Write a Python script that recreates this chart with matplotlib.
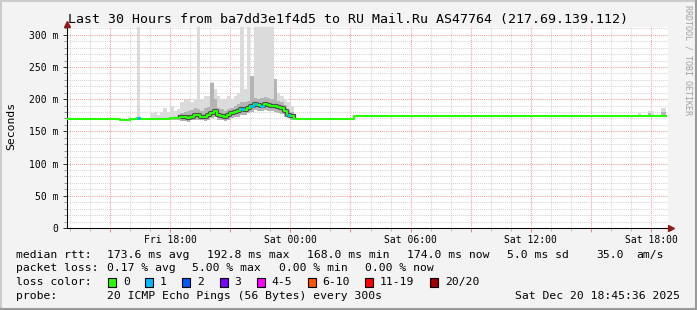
import numpy as np
import matplotlib.pyplot as plt
from matplotlib.lines import Line2D
from matplotlib.patches import Rectangle
from matplotlib.ticker import MultipleLocator, FixedLocator, FuncFormatter
from matplotlib.transforms import ScaledTranslation

plt.rcParams['font.family'] = 'DejaVu Sans Mono'

W, H = 697, 310

title = "Last 30 Hours from ba7dd3e1f4d5 to RU Mail.Ru AS47764 (217.69.139.112)"
axis_start = "Fri 12:51"
axis_end = "Sat 18:51"
data_end = "Sat 18:45"

# one row per sample: start time, median rtt (ms), lost pings (of 20),
# smoke lower edge, dense smoke top, light smoke top (ms)
times = ["Fri 12:51", "Fri 15:30", "Fri 16:00", "Fri 16:20", "Fri 16:30",
         "Fri 17:00", "Fri 17:10", "Fri 17:20", "Fri 17:30", "Fri 17:40",
         "Fri 17:50", "Fri 18:00", "Fri 18:10", "Fri 18:20",
         "Fri 18:30", "Fri 18:40", "Fri 18:50", "Fri 19:00", "Fri 19:10",
         "Fri 19:20", "Fri 19:30", "Fri 19:40", "Fri 19:50", "Fri 20:00",
         "Fri 20:10", "Fri 20:20", "Fri 20:30", "Fri 20:40", "Fri 20:50",
         "Fri 21:00", "Fri 21:10", "Fri 21:20", "Fri 21:30", "Fri 21:40",
         "Fri 21:50", "Fri 22:00", "Fri 22:10", "Fri 22:20", "Fri 22:30",
         "Fri 22:40", "Fri 22:50", "Fri 23:00", "Fri 23:10", "Fri 23:20",
         "Fri 23:30", "Fri 23:40", "Fri 23:50", "Sat 00:00", "Sat 00:10",
         "Sat 00:20", "Sat 03:12",
         "Sat 17:20", "Sat 17:30", "Sat 17:50", "Sat 18:00", "Sat 18:10",
         "Sat 18:30", "Sat 18:40"]
median = [169, 168, 169, 170, 169,
          169, 169, 169, 169, 169,
          169, 170, 171, 171,
          172, 172, 171, 173, 175,
          176, 173, 172, 176, 178,
          182, 175, 174, 173, 176,
          178, 180, 181, 184, 183,
          186, 189, 192, 191, 190,
          192, 191, 190, 189, 188,
          186, 181, 176, 174, 169,
          169, 174,
          174, 174, 174, 174, 174,
          174, 174]
loss = [0, 0, 0, 1, 0,
        0, 0, 0, 0, 0,
        0, 0, 0, 0,
        0, 0, 0, 0, 0,
        0, 0, 0, 0, 0,
        0, 0, 0, 0, 0,
        0, 0, 0, 1, 0,
        0, 1, 1, 0, 1,
        0, 0, 0, 0, 0,
        0, 0, 1, 0, 0,
        0, 0,
        0, 0, 0, 0, 0,
        0, 0]
smoke_lo = [169, 168, 169, 168, 169,
            168, 168, 168, 168, 168,
            168, 168, 168, 167,
            166, 166, 165, 167, 168,
            168, 167, 166, 168, 170,
            172, 168, 167, 166, 168,
            170, 172, 173, 176, 176,
            178, 180, 183, 182, 182,
            183, 182, 181, 180, 179,
            177, 173, 170, 168, 168,
            169, 174,
            174, 174, 173, 173, 174,
            173, 173]
smoke_mid = [169, 168, 169, 171, 169,
             170, 171, 170, 171, 171,
             171, 172, 172, 174,
             178, 180, 181, 183, 186,
             185, 182, 186, 188, 225,
             200, 186, 184, 182, 185,
             187, 189, 192, 195, 195,
             197, 236, 202, 201, 202,
             203, 202, 200, 231, 197,
             195, 191, 185, 180, 170,
             169, 174,
             174, 174, 178, 176, 174,
             180, 180]
smoke_top = [169, 168, 169, 320, 169,
             178, 180, 176, 180, 187,
             180, 189, 182, 185,
             195, 198, 200, 196, 200,
             320, 200, 205, 205, 226,
             215, 205, 200, 198, 205,
             200, 205, 210, 320, 215,
             320, 236, 320, 320, 320,
             320, 320, 320, 231, 210,
             205, 200, 195, 190, 172,
             169, 174,
             179, 174, 181, 182, 174,
             186, 186]

ytick_values = [0, 50, 100, 150, 200, 250, 300]
ytick_labels = ["0", "50 m", "100 m", "150 m", "200 m", "250 m", "300 m"]
xtick_labels = ["Fri 18:00", "Sat 00:00", "Sat 06:00", "Sat 12:00", "Sat 18:00"]

loss_names = ["0", "1", "2", "3", "4-5", "6-10", "11-19", "20/20"]
loss_colors = ["#26ff00", "#00b8ff", "#0059ff", "#7e00ff", "#ff00ff",
               "#ff5500", "#ff0000", "#a10000"]
loss_upper = [0, 1, 2, 3, 5, 10, 19, 20]


def to_hours(s):
    day, hm = s.split()
    h, m = hm.split(":")
    return {"Fri": 0, "Sat": 24}[day] + int(h) + int(m) / 60


def loss_color(n):
    for up, c in zip(loss_upper, loss_colors):
        if n <= up:
            return c
    return loss_colors[-1]


t = np.array([to_hours(s) for s in times])
t_edges = np.append(t, to_hours(data_end))
med = np.array(median, dtype=float)


def stepped(v):
    v = np.asarray(v, dtype=float)
    return np.append(v, v[-1])


fig = plt.figure(figsize=(W / 100, H / 100), dpi=100, facecolor="#f3f3f3")
ax = fig.add_axes([67 / W, 1 - 228 / H, (668 - 67) / W, (228 - 27) / H])
ax.set_facecolor("white")
ax.set_xlim(to_hours(axis_start), to_hours(axis_end))
ax.set_ylim(0, 312)

# smoke
ax.fill_between(t_edges, stepped(smoke_lo), stepped(smoke_top), step="post",
                color="#dbdbdb", lw=0, zorder=2)
ax.fill_between(t_edges, stepped(smoke_lo), stepped(smoke_mid), step="post",
                color="#b4b4b4", lw=0, zorder=3)
smoky = (np.array(smoke_top) > med + 15) & (np.array(smoke_mid) > med + 3)
core = np.where(smoky, med, np.nan)
ax.step(t_edges, stepped(core), where="post", color="#4a4a4a", lw=3, zorder=4)

# median rtt coloured by loss
ax.step(t_edges, stepped(med), where="post", color=loss_colors[0], lw=1.5,
        zorder=5)
for i in range(len(t)):
    if loss[i] > 0:
        ax.hlines(med[i], t_edges[i], t_edges[i + 1], color=loss_color(loss[i]),
                  lw=2.2, zorder=6)

# grid
ax.set_axisbelow(True)
ax.xaxis.set_major_locator(MultipleLocator(3))
ax.xaxis.set_minor_locator(MultipleLocator(1))
label_map = {round(to_hours(s)): s for s in xtick_labels}
ax.xaxis.set_major_formatter(FuncFormatter(lambda v, p: label_map.get(round(v), "")))
ax.yaxis.set_major_locator(FixedLocator(ytick_values))
ax.set_yticklabels(ytick_labels)
ax.yaxis.set_minor_locator(MultipleLocator(10))
ax.grid(which="minor", color="#d4d4d4", linestyle=(0, (1, 1)), lw=0.75)
ax.grid(which="major", color="#f2a0a0", linestyle=(0, (1, 1)), lw=0.75)

ax.tick_params(which="both", direction="out", labelsize=7, width=0.7)
ax.tick_params(axis="y", which="major", length=3, pad=3, color="#333333")
ax.tick_params(axis="y", which="minor", length=2, color="#999999")
ax.tick_params(axis="x", which="major", length=3, pad=2, color="#e08080")
ax.tick_params(axis="x", which="minor", length=2, color="#bbbbbb")

for side in ["top", "right"]:
    ax.spines[side].set_visible(False)
for side in ["left", "bottom"]:
    ax.spines[side].set_color("black")
    ax.spines[side].set_linewidth(0.75)

# axis arrows
up = ScaledTranslation(0, 3 / 100, fig.dpi_scale_trans)
rt = ScaledTranslation(3 / 100, 0, fig.dpi_scale_trans)
ax.plot([0], [1], marker="^", ms=5, color="#8b1c1c", transform=ax.transAxes + up,
        clip_on=False, zorder=10)
ax.plot([1], [0], marker=">", ms=5, color="#8b1c1c", transform=ax.transAxes + rt,
        clip_on=False, zorder=10)

# texts
def px(x, y):
    return x / W, 1 - y / H

fig.text(*px(348, 19), title, fontsize=9.5, ha="center", va="center")
fig.text(*px(11, 126), "Seconds", fontsize=8.2, rotation=90, ha="center", va="center")
fig.text(*px(688, 60), "RRDTOOL / TOBI OETIKER", fontsize=6, rotation=270,
         ha="center", va="center", color="#a0a0a0")

lf = 8.2
y1, y2, y3, y4 = 255, 268, 282, 296
fig.text(*px(16, y1), "median rtt:", fontsize=lf, va="center")
for x, s in [(107, "173.6 ms avg"), (207, "192.8 ms max"), (307, "168.0 ms min"),
             (407, "174.0 ms now"), (507, "5.0 ms sd"), (596, "35.0"), (636, "am/s")]:
    fig.text(*px(x, y1), s, fontsize=lf, va="center")
fig.text(*px(16, y2), "packet loss:", fontsize=lf, va="center")
for x, s in [(107, "0.17 % avg"), (192, "5.00 % max"), (279, "0.00 % min"),
             (365, "0.00 % now")]:
    fig.text(*px(x, y2), s, fontsize=lf, va="center")
fig.text(*px(16, y3), "loss color:", fontsize=lf, va="center")
box_x = [108, 145, 182, 219.5, 256.5, 307.5, 365, 430]
for x, name, c in zip(box_x, loss_names, loss_colors):
    fig.patches.append(Rectangle(px(x, y3 + 4.5), 8 / W, 9 / H, facecolor=c,
                                 edgecolor="black", lw=0.8, transform=fig.transFigure))
    fig.text(*px(x + 15, y3), name, fontsize=lf, va="center")
fig.text(*px(16, y4), "probe:", fontsize=lf, va="center")
fig.text(*px(107, y4), "20 ICMP Echo Pings (56 Bytes) every 300s", fontsize=lf, va="center")
fig.text(*px(680, y4), "Sat Dec 20 18:45:36 2025", fontsize=lf, va="center", ha="right")

# frame
fig.add_artist(Line2D([0, 1], [1 - 1 / H] * 2, color="#cccccc", lw=1.5))
fig.add_artist(Line2D([1 / W] * 2, [0, 1], color="#cccccc", lw=1.5))
fig.add_artist(Line2D([0, 1], [1 / H] * 2, color="#9a9a9a", lw=1.5))
fig.add_artist(Line2D([1 - 1 / W] * 2, [0, 1], color="#9a9a9a", lw=1.5))

fig.savefig("out.png", dpi=100, facecolor=fig.get_facecolor())
